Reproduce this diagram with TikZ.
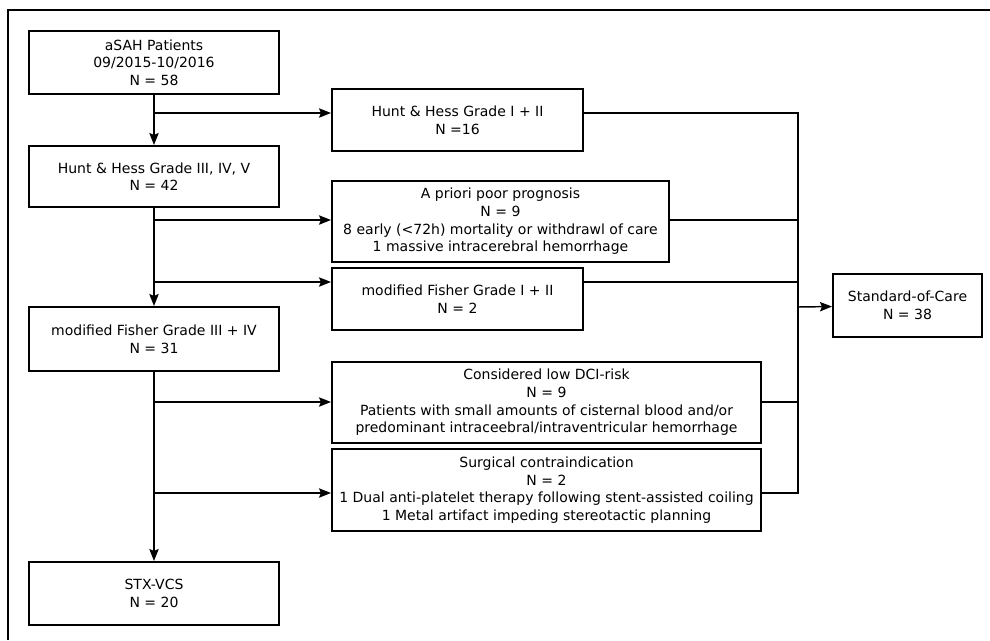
\documentclass[tikz,border=0pt]{standalone}
\usepackage{fontspec}
\setmainfont{DejaVu Sans}
\usetikzlibrary{arrows.meta}

\begin{document}
\begin{tikzpicture}[x=0.75pt,y=-0.75pt,
  box/.style 2 args={rectangle,draw,line width=1.5pt,align=center,inner sep=1pt,
    minimum width=#1*0.75pt,minimum height=#2*0.75pt,font=\fontsize{10.5}{13.2}\selectfont},
  flow/.style={line width=1.1pt,-{Stealth[length=9pt,width=7pt,inset=1.5pt]}},
  link/.style={line width=1.1pt}]
\useasboundingbox (0,0) rectangle (990,640);
\draw [link] (8,640) -- (8,10) -- (990,10);

% left column
\node [box={250}{63}] (asah) at (154,62.5) {aSAH Patients\\09/2015-10/2016\\N = 58};
\node [box={250}{61}] (hh3) at (154,176.5) {Hunt \& Hess Grade III, IV, V\\N = 42};
\node [box={250}{64}] (mf34) at (154,339) {modified Fisher Grade III + IV\\N = 31};
\node [box={250}{63}] (stx) at (154,593.5) {STX-VCS\\N = 20};

% excluded
\node [box={251}{62}] (hh12) at (457.5,120) {Hunt \& Hess Grade I + II\\N =16};
\node [box={337}{81}] (prog) at (500.5,221.5) {A priori poor prognosis\\N = 9\\8 early (<72h) mortality or withdrawl of care\\1 massive intracerebral hemorrhage};
\node [box={251}{62}] (mf12) at (457.5,299) {modified Fisher Grade I + II\\N = 2};
\node [box={429}{81}] (dci) at (546.5,402.5) {Considered low DCI-risk\\N = 9\\Patients with small amounts of cisternal blood and/or\\predominant intraceebral/intraventricular hemorrhage};
\node [box={429}{82}] (surg) at (546.5,490) {Surgical contraindication\\N = 2\\1 Dual anti-platelet therapy following stent-assisted coiling\\1 Metal artifact impeding stereotactic planning};
\node [box={149}{63}] (soc) at (907.5,305.5) {Standard-of-Care\\N = 38};

% branch points
\coordinate (b1) at (154,113);
\coordinate (b2) at (154,220);
\coordinate (b3) at (154,282);
\coordinate (b4) at (154,402);
\coordinate (b5) at (154,493);
\coordinate (r1) at (798,113);
\coordinate (r5) at (798,493);
\coordinate (r0) at (798,307);

\draw [flow] (asah) -- (hh3);
\draw [flow] (hh3) -- (mf34);
\draw [flow] (mf34) -- (stx);
\draw [flow] (b1) -- (b1 -| hh12.west);
\draw [flow] (b2) -- (b2 -| prog.west);
\draw [flow] (b3) -- (b3 -| mf12.west);
\draw [flow] (b4) -- (b4 -| dci.west);
\draw [flow] (b5) -- (b5 -| surg.west);

\draw [link] (r1 -| hh12.east) -- (r1) -- (r5) -- (r5 -| surg.east);
\draw [link] (b2 -| prog.east) -- (b2 -| r1);
\draw [link] (b3 -| mf12.east) -- (b3 -| r1);
\draw [link] (b4 -| dci.east) -- (b4 -| r1);
\draw [flow] (r0) -- (soc);
\end{tikzpicture}
\end{document}
